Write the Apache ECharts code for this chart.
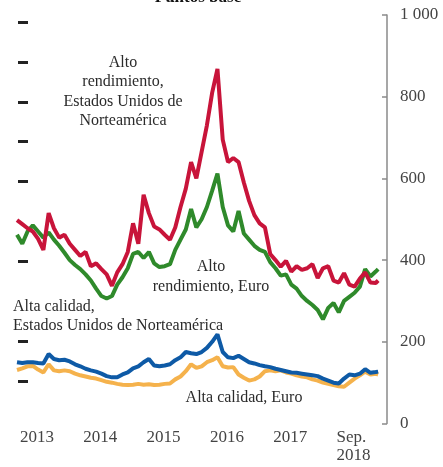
<!DOCTYPE html>
<html><head><meta charset="utf-8">
<script src="https://cdn.jsdelivr.net/npm/echarts/dist/echarts.min.js"></script>
<style>html,body{margin:0;padding:0;background:#fff}#c{width:443px;height:467px}</style>
</head><body><div id="c"></div>
<script>
// Monthly observations (first of month), last point mid-September 2018
const dates = [
 '2013-01','2013-02','2013-03','2013-04','2013-05','2013-06','2013-07','2013-08','2013-09','2013-10','2013-11','2013-12',
 '2014-01','2014-02','2014-03','2014-04','2014-05','2014-06','2014-07','2014-08','2014-09','2014-10','2014-11','2014-12',
 '2015-01','2015-02','2015-03','2015-04','2015-05','2015-06','2015-07','2015-08','2015-09','2015-10','2015-11','2015-12',
 '2016-01','2016-02','2016-03','2016-04','2016-05','2016-06','2016-07','2016-08','2016-09','2016-10','2016-11','2016-12',
 '2017-01','2017-02','2017-03','2017-04','2017-05','2017-06','2017-07','2017-08','2017-09','2017-10','2017-11','2017-12',
 '2018-01','2018-02','2018-03','2018-04','2018-05','2018-06','2018-07','2018-08','2018-09','2018-09-15'
];
const altoRendimientoEEUU = [
 498,488,478,470,452,425,515,478,455,462,440,425,
 410,420,385,392,378,365,337,370,390,420,490,440,
 560,515,482,475,462,450,480,530,575,640,600,665,
 730,810,868,695,640,650,640,590,545,510,490,480,
 415,400,384,398,372,385,376,380,390,356,380,385,
 350,345,368,340,335,355,370,345,344,350
];
const altoRendimientoEuro = [
 462,440,470,485,470,455,468,450,435,418,400,388,
 378,365,350,330,312,306,312,340,358,380,415,420,
 405,420,392,383,385,390,425,450,475,525,480,500,
 530,570,612,530,485,470,520,465,450,435,425,420,
 395,380,362,365,340,330,312,300,290,278,255,283,
 295,272,300,310,320,335,378,360,372,378
];
const altaCalidadEEUU = [
 150,148,150,150,148,147,170,158,155,156,152,145,
 140,134,130,127,122,116,113,113,120,125,135,140,
 150,158,142,140,142,145,155,162,175,172,170,175,
 185,200,218,175,162,160,166,158,150,147,143,140,
 138,134,131,128,125,124,122,120,118,116,110,105,
 100,98,110,120,118,122,133,124,126,127
];
const altaCalidadEuro = [
 131,135,140,141,132,125,145,130,128,130,128,122,
 118,115,112,110,106,102,100,97,95,94,95,97,
 95,96,94,95,97,98,108,115,128,145,136,140,
 150,155,162,140,137,138,120,112,105,108,115,128,
 130,128,130,125,122,118,115,113,108,105,100,97,
 94,91,90,100,110,118,127,120,122,120
];
const yearTicks = [2013, 2014, 2015, 2016, 2017, 2018];
const yearLabels = ['2013', '2014', '2015', '2016', '2017', 'Sep.\n2018'];
const leftDashes = ['', '', '', '', '', '', '', '', '', ''];

function toYear(s) {
  const p = s.split('-').map(Number);
  return p[0] + (p[1] - 1) / 12 + ((p[2] || 1) - 1) / 365;
}
function pairs(vals) { return vals.map((v, i) => [toYear(dates[i]), v]); }

const serif = '"Liberation Serif", "Times New Roman", serif';
const txt = '#2b2b2b';

const chart = echarts.init(document.getElementById('c'), null, {renderer: 'canvas'});
chart.setOption({
  animation: false,
  grid: [
    {left: 17, right: 56, top: 15, bottom: 43.5},
    {left: 18, top: 22, height: 359, width: 10}
  ],
  xAxis: [
    {
      type: 'value', gridIndex: 0, min: 2013, max: 2018.845, interval: 1,
      axisLine: {show: false}, axisTick: {show: false}, splitLine: {show: false},
      axisLabel: {
        showMaxLabel: false, align: 'left', margin: 5, lineHeight: 18,
        padding: [0, 0, 0, 3],
        color: '#444', fontFamily: serif, fontSize: 17,
        formatter: v => { const k = yearTicks.indexOf(v); return k >= 0 ? yearLabels[k] : ''; }
      }
    },
    {type: 'value', gridIndex: 1, show: false}
  ],
  yAxis: [
    {
      type: 'value', gridIndex: 0, position: 'right', min: 0, max: 1000, interval: 200,
      axisLine: {show: true, lineStyle: {color: '#8a8a8a', width: 1.5}},
      axisTick: {show: true, inside: true, length: 5, lineStyle: {color: '#8a8a8a', width: 1.5}},
      splitLine: {show: false},
      axisLabel: {
        margin: 13, color: '#444', fontFamily: serif, fontSize: 17,
        formatter: v => v === 1000 ? '1 000' : String(v)
      }
    },
    {
      type: 'category', gridIndex: 1, data: leftDashes, boundaryGap: false,
      axisLine: {show: false}, axisLabel: {show: false}, splitLine: {show: false},
      axisTick: {show: true, inside: true, length: 10,
        interval: (i) => i !== 2 && i !== 4,
        lineStyle: {color: '#222', width: 3}}
    }
  ],
  series: [
    {name: 'Alta calidad, Euro', type: 'line', data: pairs(altaCalidadEuro), showSymbol: false,
     lineStyle: {color: '#f5b24c', width: 4}, itemStyle: {color: '#f5b24c'}},
    {name: 'Alta calidad, EEUU', type: 'line', data: pairs(altaCalidadEEUU), showSymbol: false,
     lineStyle: {color: '#0e5aa6', width: 4}, itemStyle: {color: '#0e5aa6'}},
    {name: 'Alto rendimiento, Euro', type: 'line', data: pairs(altoRendimientoEuro), showSymbol: false,
     lineStyle: {color: '#2f8a2b', width: 4}, itemStyle: {color: '#2f8a2b'}},
    {name: 'Alto rendimiento, EEUU', type: 'line', data: pairs(altoRendimientoEEUU), showSymbol: false,
     lineStyle: {color: '#c8143a', width: 4}, itemStyle: {color: '#c8143a'}}
  ],
  graphic: [
    {type: 'text', x: 198, y: -11, style: {text: 'Puntos base', fill: '#111', font: 'bold 17px ' + serif, textAlign: 'center', textVerticalAlign: 'top'}},
    {type: 'text', x: 123, y: 53, style: {text: 'Alto\nrendimiento,\nEstados Unidos de\nNorteamérica', fill: txt, font: '16px ' + serif, lineHeight: 19.5, textAlign: 'center', textVerticalAlign: 'top'}},
    {type: 'text', x: 211, y: 257, style: {text: 'Alto\nrendimiento, Euro', fill: txt, font: '16px ' + serif, lineHeight: 20, textAlign: 'center', textVerticalAlign: 'top'}},
    {type: 'text', x: 13, y: 297, style: {text: 'Alta calidad,\nEstados Unidos de Norteamérica', fill: txt, font: '16px ' + serif, lineHeight: 19, textAlign: 'left', textVerticalAlign: 'top'}},
    {type: 'text', x: 244, y: 390, style: {text: 'Alta calidad, Euro', fill: txt, font: '16px ' + serif, textAlign: 'center', textVerticalAlign: 'top'}}
  ]
});
</script>
</body></html>
